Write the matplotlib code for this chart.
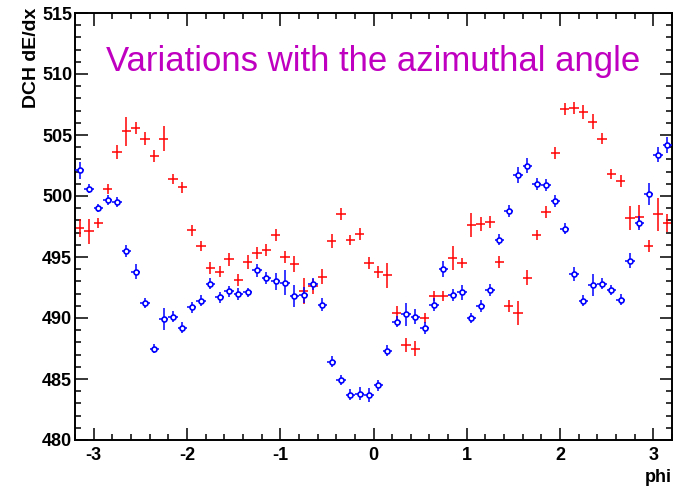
import numpy as np
import matplotlib
matplotlib.use("Agg")
import matplotlib.pyplot as plt
from matplotlib.ticker import MultipleLocator

# bin centres (phi), width 0.1
phi = np.round(np.arange(-3.15, 3.16, 0.1), 3)
phi_halfwidth = 0.05

red_vals = [497.4, 497.1, 497.8, 500.6, 503.6, 505.3, 505.6, 504.7, 503.3, 504.7,
            501.4, 500.7, 497.2, 495.9, 494.1, 493.8, 494.8, 493.1, 494.6, 495.3,
            495.6, 496.8, 495.0, 494.4, 492.2, 492.6, 493.4, 496.3, 498.5, 496.4,
            496.9, 494.5, 493.8, 493.5, 490.4, 487.8, 487.5, 490.0, 491.8, 491.8,
            494.9, 494.5, 497.6, 497.7, 497.9, 494.6, 491.0, 490.4, 493.3, 496.8,
            498.7, 503.5, 507.1, 507.2, 506.9, 506.1, 504.7, 501.8, 501.2, 498.2,
            498.3, 495.9, 498.5, 497.8]
red_errs = [0.75, 1.0, 0.4, 0.4, 0.55, 1.2, 0.5, 0.55, 0.5, 1.0,
            0.4, 0.45, 0.45, 0.4, 0.5, 0.45, 0.55, 0.5, 0.55, 0.5,
            0.5, 0.5, 0.5, 0.65, 1.05, 0.6, 0.6, 0.6, 0.5, 0.4,
            0.5, 0.5, 0.5, 1.0, 0.55, 0.6, 0.6, 0.4, 0.4, 0.4,
            1.0, 0.4, 1.0, 0.6, 0.5, 0.5, 0.5, 1.0, 0.6, 0.4,
            0.5, 0.5, 0.5, 0.5, 0.6, 0.6, 0.45, 0.4, 0.5, 0.95,
            0.95, 0.5, 1.35, 0.75]

blue_vals = [502.1, 500.6, 499.0, 499.7, 499.5, 495.5, 493.8, 491.2, 487.5, 489.9,
             490.1, 489.2, 490.9, 491.4, 492.8, 491.7, 492.2, 492.0, 492.1, 493.9,
             493.3, 493.0, 492.9, 491.8, 491.9, 492.8, 491.1, 486.4, 484.9, 483.7,
             483.8, 483.7, 484.5, 487.3, 489.7, 490.3, 490.1, 489.2, 491.1, 494.0,
             491.9, 492.1, 490.0, 491.0, 492.3, 496.4, 498.8, 501.7, 502.5, 501.0,
             500.9, 499.6, 497.3, 493.6, 491.4, 492.7, 492.8, 492.3, 491.5, 494.7,
             497.8, 500.2, 503.4, 504.2]
blue_errs = [0.7, 0.35, 0.35, 0.4, 0.4, 0.5, 0.6, 0.4, 0.4, 0.9,
             0.45, 0.45, 0.45, 0.45, 0.45, 0.45, 0.45, 0.5, 0.4, 0.5,
             0.5, 0.7, 1.05, 0.9, 0.65, 0.5, 0.5, 0.45, 0.4, 0.45,
             0.55, 0.6, 0.45, 0.45, 0.45, 0.95, 0.6, 0.5, 0.5, 0.65,
             0.5, 0.6, 0.45, 0.5, 0.5, 0.45, 0.5, 0.65, 0.6, 0.5,
             0.5, 0.5, 0.45, 0.6, 0.45, 0.9, 0.45, 0.4, 0.45, 0.6,
             0.55, 0.9, 0.65, 0.65]

title_text = "Variations with the azimuthal angle"
y_title = "DCH dE/dx"
x_title = "phi"

plt.rcParams['font.family'] = ['Liberation Sans', 'DejaVu Sans']
plt.rcParams['axes.unicode_minus'] = False

fig = plt.figure(figsize=(6.75, 4.88), dpi=100)
ax = fig.add_axes([75/675, 48/488, 597/675, 427/488])

ax.errorbar(phi, red_vals, yerr=red_errs, xerr=phi_halfwidth, fmt='none',
            ecolor='red', elinewidth=1.1, capsize=0, zorder=2)
ax.errorbar(phi, blue_vals, yerr=blue_errs, xerr=phi_halfwidth, fmt='o',
            color='blue', ecolor='blue', elinewidth=1.1, capsize=0,
            ms=3.6, mfc='white', mec='blue', mew=1.2, zorder=3)

ax.set_xlim(-3.2, 3.2)
ax.set_ylim(480, 515)
ax.xaxis.set_major_locator(MultipleLocator(1))
ax.xaxis.set_minor_locator(MultipleLocator(0.2))
ax.yaxis.set_major_locator(MultipleLocator(5))
ax.yaxis.set_minor_locator(MultipleLocator(1))
ax.tick_params(which='both', direction='in', top=True, right=True, width=1.1)
ax.tick_params(which='major', length=9)
ax.tick_params(which='minor', length=4.5)
ax.tick_params(axis='y', pad=2)
ax.tick_params(axis='x', pad=5)
for lab in ax.get_xticklabels() + ax.get_yticklabels():
    lab.set_fontweight('bold')
    lab.set_fontsize(13)
for sp in ax.spines.values():
    sp.set_linewidth(1.4)

fig.text(32/675, 1 - 8/488, y_title, rotation=90, ha='center', va='top',
         fontsize=14, fontweight='bold')
fig.text(672/675, 1 - 478/488, x_title, ha='right', va='center',
         fontsize=13, fontweight='bold')
fig.text(106/675, 1 - 61/488, title_text, ha='left', va='center',
         fontsize=25, color='#c000c0')

fig.savefig('out.png', dpi=100)
